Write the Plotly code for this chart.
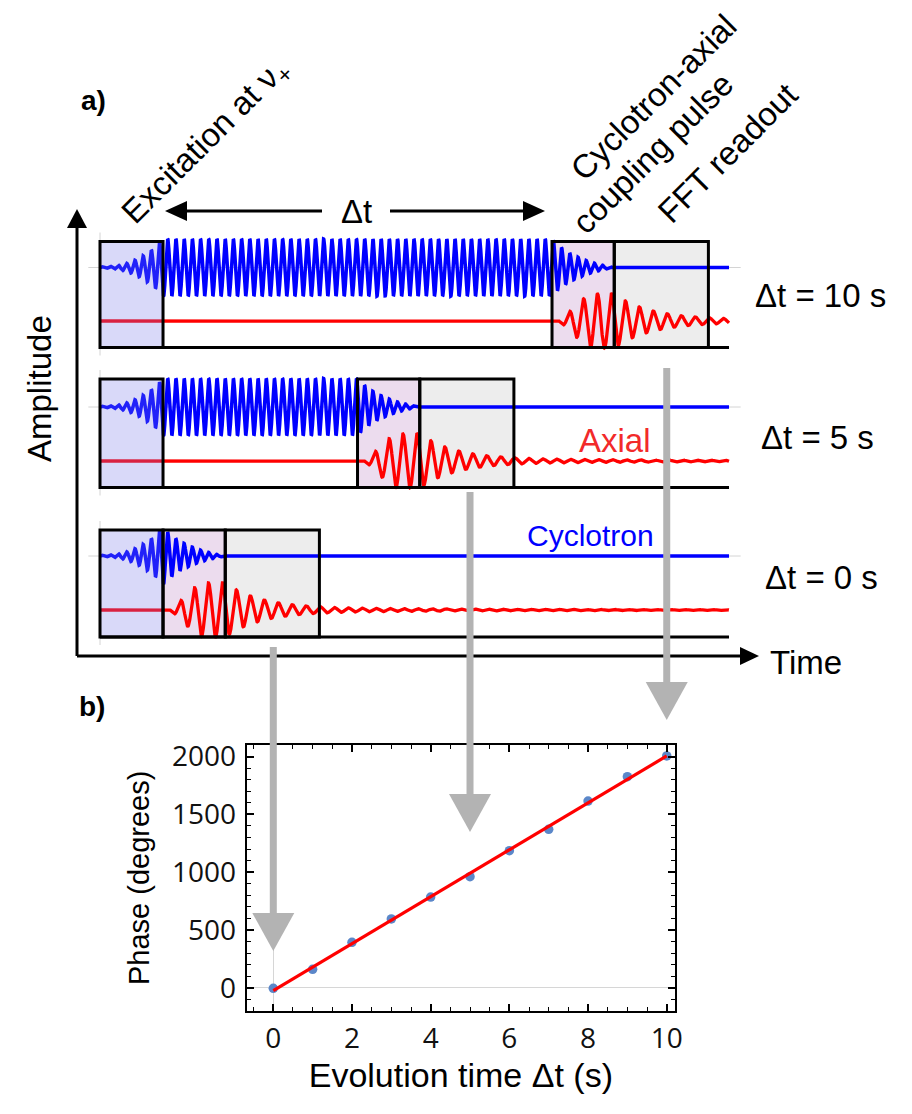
import numpy as np
import plotly.graph_objects as go

W, H = 912, 1114

# ---------------- panel b data ----------------
DT_S = [0, 1, 2, 3, 4, 5, 6, 7, 8, 9, 10]
PHASE_DEG = [-5, 159, 393, 595, 785, 961, 1186, 1371, 1616, 1827, 2006]
XB_TICKS = [0, 2, 4, 6, 8, 10]
YB_TICKS = [0, 500, 1000, 1500, 2000]

# ---------------- panel a schematic parameters ----------------
ROW_DT_S = [10, 5, 0]
ROW_LABELS = ["Δt = 10 s", "Δt = 5 s", "Δt = 0 s"]
EXC_S = 1.62        # excitation pulse length
COUPLE_S = 1.60     # coupling pulse length
FFT_S = 2.42        # FFT readout window
T_END_S = 16.17     # end of drawn traces
F_CYC = 4.74        # cyclotron oscillation (cycles / s, schematic)
F_AX = 2.78         # axial oscillation (cycles / s, schematic)
A_CYC = 28.5        # cyclotron amplitude
A_AX = 27.0         # axial amplitude
AX_FAST = (25.0, 0.9)   # axial ring-down: amplitude, decay time
AX_SLOW = (2.0, 9.0)
ARROW_DT_S = [0, 5, 10]

# ---------------- layout / geometry (pixels) ----------------
PX_PER_S = 38.9
T0_PX = 100
XA_RANGE = [-T0_PX / PX_PER_S, (W - T0_PX) / PX_PER_S]
ROW_TOP = [241.5, 379, 530]
ROW_BOT = [347.5, 487.5, 637]
BLUE_Y = [267.5, 407, 556]
RED_Y = [321, 461, 610]

XB_DOM = [246.7 / W, 675 / W]
YB_DOM = [1 - 1010.7 / H, 1 - 745 / H]
XB_RANGE = [-0.676, 10.21]
YB_RANGE = [-199, 2101]

FONT_A = "Liberation Sans, Arial, sans-serif"
FONT_T = "Open Sans, sans-serif"
BLUE = "#0000ff"
RED = "#ff0000"
GRAY_ARROW = "#b3b3b3"


def cyclotron(t, dt):
    t1 = EXC_S
    t2 = EXC_S + dt
    t3 = t2 + COUPLE_S
    env = np.zeros_like(t)
    m = t < t1
    env[m] = 0.03 + 0.97 * (t[m] / t1) ** 2.5
    m = (t >= t1) & (t < t2)
    env[m] = 1.0
    m = (t >= t2) & (t < t3)
    u = (t[m] - t2) / COUPLE_S
    env[m] = np.exp(-u / 0.42) * (1 - u ** 4)
    return A_CYC * env * np.sin(2 * np.pi * F_CYC * t)


def axial(t, dt):
    t2 = EXC_S + dt
    t3 = t2 + COUPLE_S
    amp = np.zeros_like(t)
    m = (t >= t2) & (t < t3)
    u = (t[m] - t2) / COUPLE_S
    amp[m] = A_AX * np.sin(np.minimum(u / 0.7, 1.0) * np.pi / 2) ** 2
    m = t >= t3
    s = t[m] - t3
    amp[m] = AX_FAST[0] * np.exp(-s / AX_FAST[1]) + AX_SLOW[0] * np.exp(-s / AX_SLOW[1])
    return amp * np.sin(2 * np.pi * F_AX * (t - t2))


fig = go.Figure()

# ---- panel a waveforms ----
t = np.linspace(0, T_END_S, 5000)
for k, dt in enumerate(ROW_DT_S):
    fig.add_trace(go.Scatter(x=t, y=BLUE_Y[k] - cyclotron(t, dt), mode="lines",
                             line=dict(color=BLUE, width=3.5), xaxis="x", yaxis="y",
                             hoverinfo="skip", showlegend=False))
    fig.add_trace(go.Scatter(x=t, y=RED_Y[k] - axial(t, dt), mode="lines",
                             line=dict(color=RED, width=3.3), xaxis="x", yaxis="y",
                             hoverinfo="skip", showlegend=False))

# ---- panel b data ----
fig.add_trace(go.Scatter(x=DT_S, y=PHASE_DEG, mode="markers",
                         marker=dict(color="#5b87c9", size=9.5),
                         xaxis="x2", yaxis="y2", showlegend=False))
slope, icpt = np.polyfit(DT_S, PHASE_DEG, 1)
xf = np.array([DT_S[0], DT_S[-1]], dtype=float)
fig.add_trace(go.Scatter(x=xf, y=icpt + slope * xf, mode="lines",
                         line=dict(color=RED, width=3.2),
                         xaxis="x2", yaxis="y2", showlegend=False))

shapes = []


def pxx(px):
    return px / W


def pxy(py):
    return 1 - py / H


# ---- panel a boxes ----
for k, dt in enumerate(ROW_DT_S):
    top, bot = ROW_TOP[k], ROW_BOT[k]
    tc0 = EXC_S + dt
    tc1 = tc0 + COUPLE_S
    tf1 = tc1 + FFT_S
    # faint frame stubs
    shapes.append(dict(type="line", xref="x", yref="y", x0=-0.3, x1=T_END_S + 0.3,
                       y0=BLUE_Y[k], y1=BLUE_Y[k], line=dict(color="#d4d4d4", width=1), layer="below"))
    shapes.append(dict(type="line", xref="x", yref="y", x0=0, x1=0, y0=top - 9, y1=bot + 8,
                       line=dict(color="#d4d4d4", width=1), layer="below"))
    # fills
    shapes.append(dict(type="rect", xref="x", yref="y", x0=tc0, x1=tc1, y0=top, y1=bot,
                       fillcolor="#ecdcee", line=dict(width=0), layer="below"))
    shapes.append(dict(type="rect", xref="x", yref="y", x0=tc1, x1=tf1, y0=top, y1=bot,
                       fillcolor="#ededed", line=dict(width=0), layer="below"))
    shapes.append(dict(type="rect", xref="x", yref="y", x0=0, x1=EXC_S, y0=top, y1=bot,
                       fillcolor="rgba(120,120,232,0.28)", line=dict(width=0), layer="above"))
    # outlines
    for a, b in [(0, EXC_S), (tc0, tc1), (tc1, tf1)]:
        shapes.append(dict(type="rect", xref="x", yref="y", x0=a, x1=b, y0=top, y1=bot,
                           line=dict(color="black", width=3), layer="above"))
    shapes.append(dict(type="line", xref="x", yref="y", x0=0, x1=T_END_S, y0=bot, y1=bot,
                       line=dict(color="black", width=3), layer="above"))


def tri(p1, p2, p3, color):
    path = "M {},{} L {},{} L {},{} Z".format(pxx(p1[0]), pxy(p1[1]), pxx(p2[0]), pxy(p2[1]),
                                             pxx(p3[0]), pxy(p3[1]))
    return dict(type="path", xref="paper", yref="paper", path=path, fillcolor=color,
                line=dict(width=0), layer="above")


def seg(x0, y0, x1, y1, color="black", width=3):
    return dict(type="line", xref="paper", yref="paper", x0=pxx(x0), y0=pxy(y0), x1=pxx(x1), y1=pxy(y1),
                line=dict(color=color, width=width), layer="above")


# ---- main amplitude / time axes ----
shapes.append(seg(77, 656, 77, 226))
shapes.append(tri((77, 209), (67, 228), (87, 228), "black"))
shapes.append(seg(77, 656, 742, 656))
shapes.append(tri((759, 656), (740, 647), (740, 665), "black"))

# ---- Δt double arrow ----
shapes.append(seg(322, 211, 185, 211))
shapes.append(tri((165, 211), (187, 201), (187, 221), "black"))
shapes.append(seg(390, 211, 525, 211))
shapes.append(tri((545, 211), (523, 201), (523, 221), "black"))

# ---- grey arrows linking rows to panel b ----
ARROW_TOP_PX = [647, 492, 368]
ARROW_TIP_PX = [951, 832, 720]
HEAD_LEN, HEAD_HALF = 38, 21
for dt, ytop, ytip in zip(ARROW_DT_S, ARROW_TOP_PX, ARROW_TIP_PX):
    xb = XB_DOM[0] + (dt - XB_RANGE[0]) / (XB_RANGE[1] - XB_RANGE[0]) * (XB_DOM[1] - XB_DOM[0])
    xpx = xb * W
    shapes.append(seg(xpx, ytop, xpx, ytip - HEAD_LEN + 1, color=GRAY_ARROW, width=7))
    shapes.append(tri((xpx, ytip), (xpx - HEAD_HALF, ytip - HEAD_LEN), (xpx + HEAD_HALF, ytip - HEAD_LEN),
                      GRAY_ARROW))


def ann(text, xpx, ypx, size=33, color="black", angle=0, family=FONT_A):
    return dict(text=text, x=pxx(xpx), y=pxy(ypx), xref="paper", yref="paper", showarrow=False,
                textangle=angle, font=dict(family=family, size=size, color=color),
                xanchor="center", yanchor="middle")


annotations = [
    ann("<b>a)</b>", 93, 100, size=28),
    ann("<b>b)</b>", 92, 706, size=28),
    ann("Excitation at ν<sub>+</sub>", 206, 142, angle=-45),
    ann("Cyclotron-axial", 653, 97, angle=-45),
    ann("coupling pulse", 652, 153, angle=-45),
    ann("FFT readout", 727, 153, angle=-45),
    ann("Δt", 356, 211),
    ann("Axial", 615, 440, color="#f22a2a"),
    ann("Cyclotron", 590, 535, size=30, color=BLUE),
    ann("Time", 806, 662),
    ann("Amplitude", 40, 389, angle=-90),
]
LABEL_POS = [(820, 296), (817, 437), (821, 578)]
for lab, (x, y) in zip(ROW_LABELS, LABEL_POS):
    annotations.append(ann(lab, x, y))

axis_b = dict(showline=True, linecolor="black", linewidth=2, mirror="allticks",
              ticks="inside", ticklen=7, tickwidth=1.5, tickcolor="black",
              showgrid=False, zeroline=True, zerolinecolor="#d6d6d6", zerolinewidth=1,
              tickfont=dict(family=FONT_T, size=28, color="#111111"), automargin=False,
              fixedrange=True)

fig.update_layout(
    width=W, height=H, margin=dict(l=0, r=0, t=0, b=0),
    paper_bgcolor="white", plot_bgcolor="white", showlegend=False,
    xaxis=dict(domain=[0, 1], range=XA_RANGE, visible=False, fixedrange=True),
    yaxis=dict(domain=[0, 1], range=[H, 0], visible=False, fixedrange=True),
    xaxis2=dict(axis_b, domain=XB_DOM, range=XB_RANGE, anchor="y2", tickvals=XB_TICKS,
                minor=dict(dtick=0.5, tick0=0, ticks="inside", ticklen=4, tickwidth=1,
                           tickcolor="black", showgrid=False),
                ticklabelstandoff=2,
                title=dict(text="Evolution time Δt (s)", font=dict(family=FONT_A, size=34, color="black"),
                           standoff=6)),
    yaxis2=dict(axis_b, domain=YB_DOM, range=YB_RANGE, anchor="x2", tickvals=YB_TICKS,
                minor=dict(dtick=100, tick0=0, ticks="inside", ticklen=4, tickwidth=1,
                           tickcolor="black", showgrid=False),
                ticklabelstandoff=3,
                title=dict(text="Phase (degrees)", font=dict(family=FONT_A, size=29, color="black"),
                           standoff=14)),
    shapes=shapes,
    annotations=annotations,
)

fig.write_html("out.html")
